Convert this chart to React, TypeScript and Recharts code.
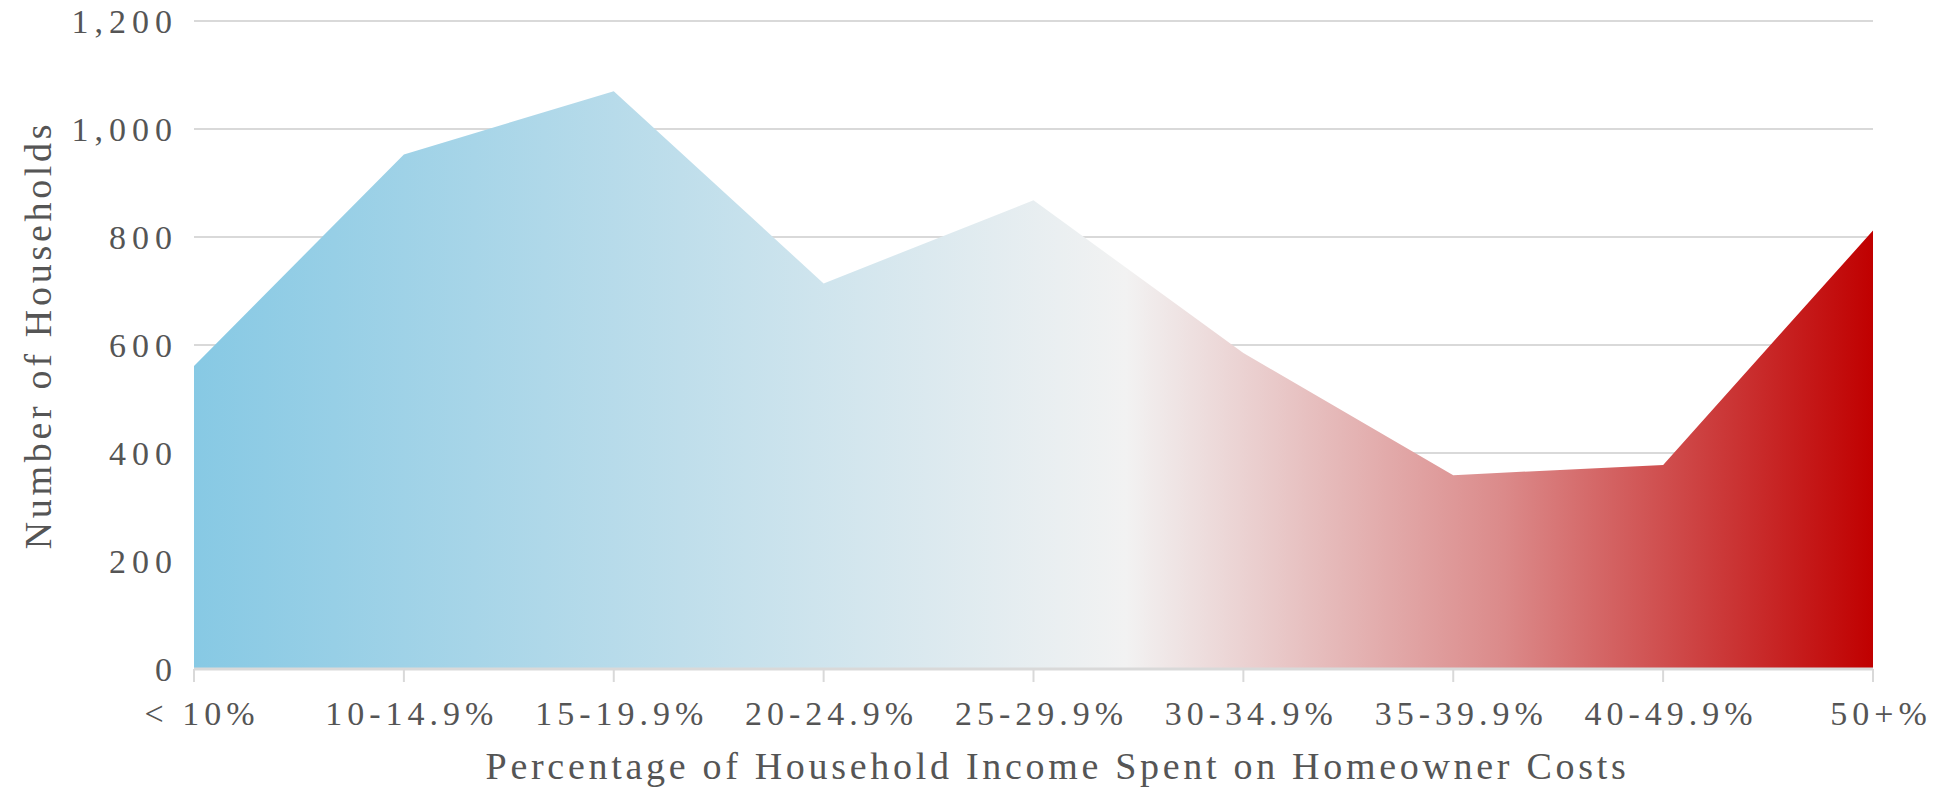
import React from 'react';
import { AreaChart, Area, XAxis, YAxis, CartesianGrid, Label } from 'recharts';

const categories = ['< 10%', '10-14.9%', '15-19.9%', '20-24.9%', '25-29.9%', '30-34.9%', '35-39.9%', '40-49.9%', '50+%'];
const households = [561, 953, 1070, 714, 868, 585, 359, 378, 812];
const yTicks = [0, 200, 400, 600, 800, 1000, 1200];
const xTitle = 'Percentage of Household Income Spent on Homeowner Costs';
const yTitle = 'Number of Households';

const data = categories.map((c, i) => ({ cat: c, value: households[i] }));

const FONT = '"Liberation Serif", "DejaVu Serif", serif';
const TEXT = '#555555';

const XTitle = (props: any) => {
  const vb = props.viewBox;
  return (
    <text x={vb.x + vb.width / 2 + 24} y={vb.y + 110} textAnchor="middle" fill={TEXT}
      style={{ fontFamily: FONT, fontSize: 38, letterSpacing: 3.7 }}>{xTitle}</text>
  );
};

const YTitle = (props: any) => {
  const vb = props.viewBox;
  const cx = 51;
  const cy = vb.y + vb.height / 2 - 10;
  return (
    <text x={cx} y={cy} textAnchor="middle" fill={TEXT} transform={`rotate(-90, ${cx}, ${cy})`}
      style={{ fontFamily: FONT, fontSize: 38, letterSpacing: 3.7 }}>{yTitle}</text>
  );
};

const XTick = (props: any) => {
  const { x, y, payload } = props;
  return (
    <text x={x + 8} y={y} dy="0.71em" textAnchor="middle" fill={TEXT}
      style={{ fontFamily: FONT, fontSize: 34, letterSpacing: 5 }}>{payload.value}</text>
  );
};

export default function App() {
  return (
    <div style={{ position: 'absolute', left: 0, top: 0, background: '#fff' }}>
      <AreaChart width={1939} height={790} data={data} margin={{ top: 21, right: 66, left: 0, bottom: 0 }}>
        <defs>
          <linearGradient id="heat" x1="0" y1="0" x2="1" y2="0">
            <stop offset="0" stopColor="#87C9E4" />
            <stop offset="0.25" stopColor="#B7DBEA" />
            <stop offset="0.555" stopColor="#F2F2F2" />
            <stop offset="0.78" stopColor="#DB8A8A" />
            <stop offset="1" stopColor="#C00000" />
          </linearGradient>
        </defs>
        <CartesianGrid vertical={false} stroke="#d9d9d9" strokeWidth={2} />
        <XAxis dataKey="cat" interval={0} height={121} axisLine={{ stroke: '#d9d9d9', strokeWidth: 3 }}
          tickLine={{ stroke: '#d9d9d9', strokeWidth: 2 }} tickSize={13} tickMargin={19}
          tick={<XTick />}>
          <Label content={<XTitle />} />
        </XAxis>
        <YAxis domain={[0, 1200]} ticks={yTicks} width={194} axisLine={false} tickLine={false}
          tickSize={0} tickMargin={16} tickFormatter={(v: number) => v.toLocaleString('en-US')}
          tick={{ fill: TEXT, fontFamily: FONT, fontSize: 34, letterSpacing: 6 }}>
          <Label content={<YTitle />} />
        </YAxis>
        <Area type="linear" dataKey="value" stroke="none" fill="url(#heat)" fillOpacity={1} isAnimationActive={false} />
      </AreaChart>
    </div>
  );
}
